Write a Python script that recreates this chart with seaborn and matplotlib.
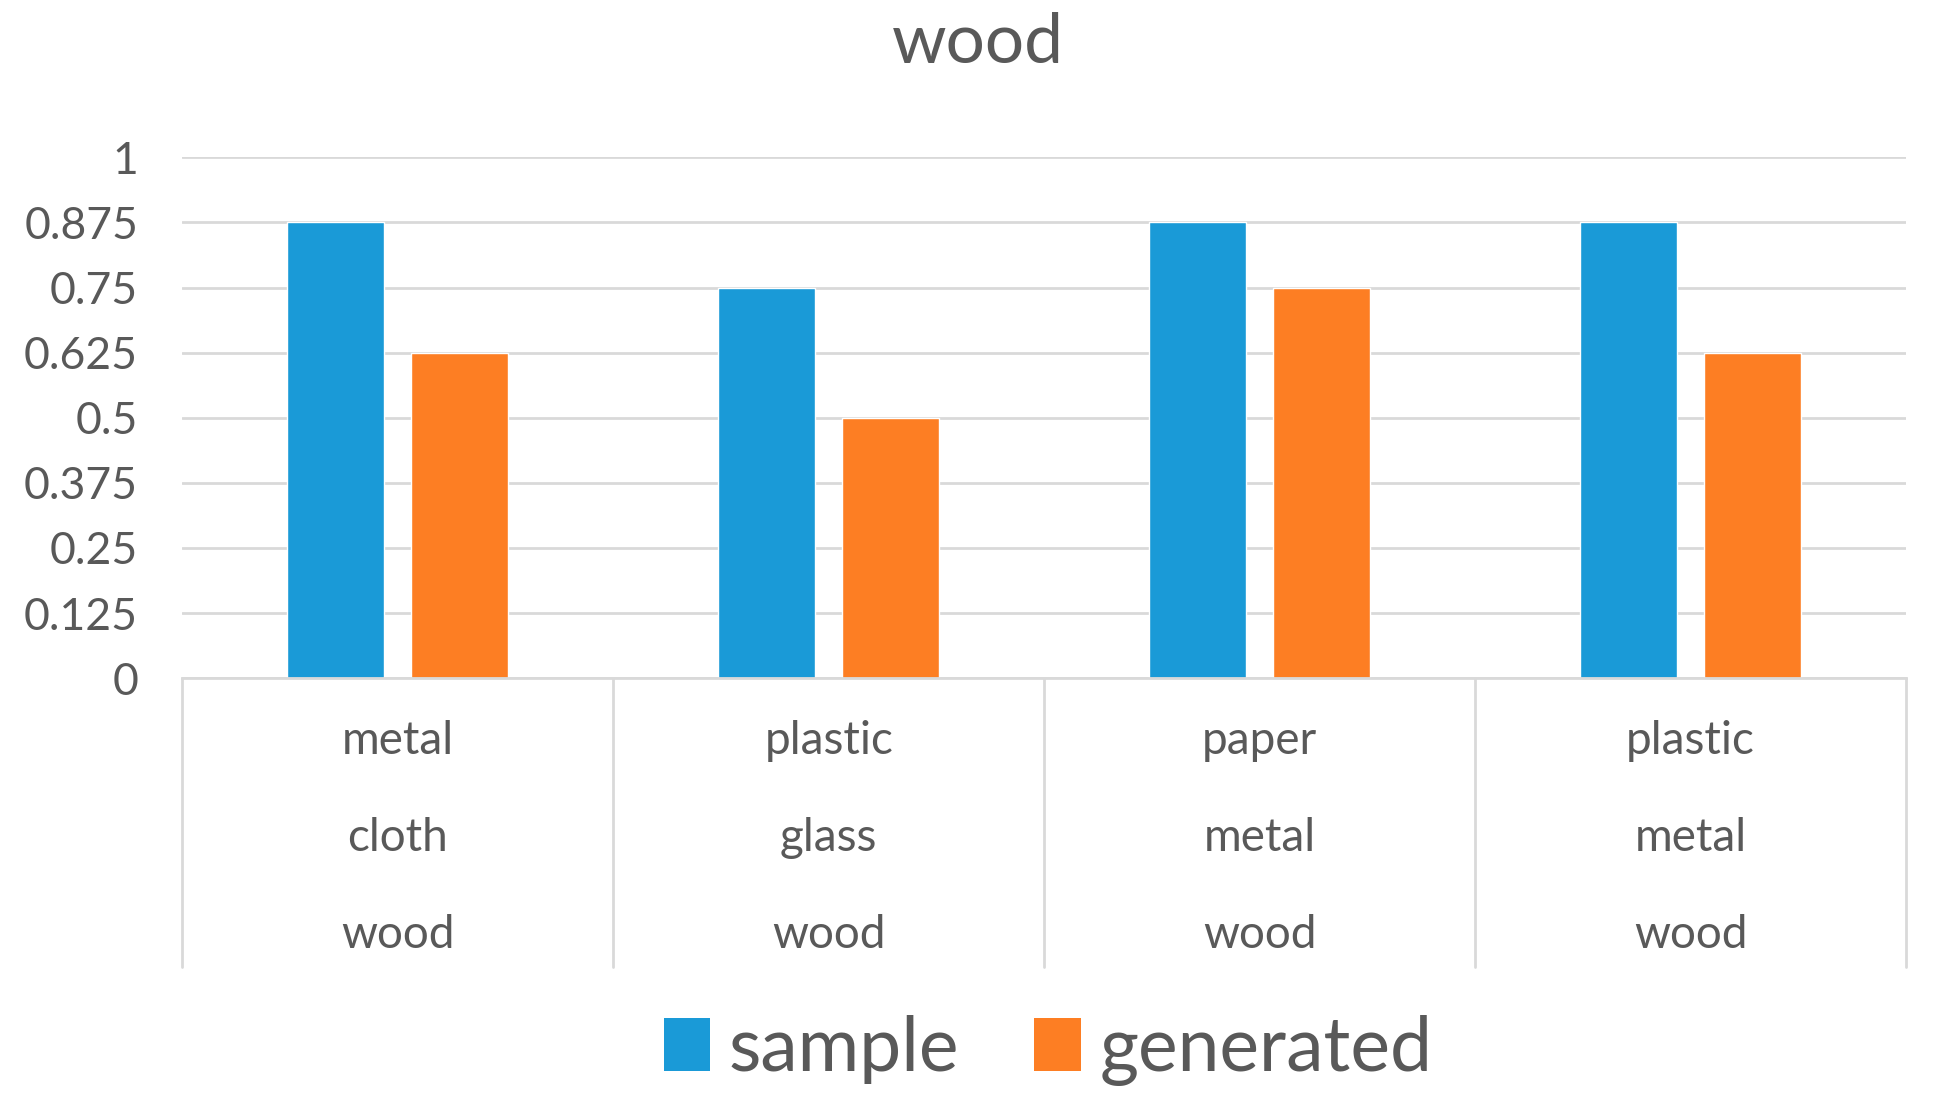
import matplotlib
matplotlib.use("Agg")
import matplotlib.pyplot as plt
import matplotlib.transforms as mtransforms
from matplotlib.patches import Patch
import seaborn as sns
import pandas as pd

# ---- data ----
title = "wood"
line1 = ["metal", "plastic", "paper", "plastic"]
line2 = ["cloth", "glass", "metal", "metal"]
line3 = ["wood", "wood", "wood", "wood"]
series_names = ["sample", "generated"]
sample = [0.875, 0.75, 0.875, 0.875]
generated = [0.625, 0.5, 0.75, 0.625]
yticks = [0, 0.125, 0.25, 0.375, 0.5, 0.625, 0.75, 0.875, 1]
ytick_labels = ["0", "0.125", "0.25", "0.375", "0.5", "0.625", "0.75", "0.875", "1"]
colors = ["#1A9AD7", "#FD7E23"]

cats = [f"{a}\n{b}\n{c}" for a, b, c in zip(line1, line2, line3)]
df = pd.DataFrame({
    "cat": cats * 2,
    "series": [series_names[0]] * 4 + [series_names[1]] * 4,
    "value": sample + generated,
})

sns.set_theme(style="white")
plt.rcParams["font.family"] = ["Lato", "DejaVu Sans"]
text_color = "#595959"

fig = plt.figure(figsize=(19.41, 11.08), dpi=100)
ax = fig.add_axes([0.094, 0.388, 0.888, 0.470])

sns.barplot(data=df, x="cat", y="value", hue="series", palette=colors,
            order=cats, hue_order=series_names, width=0.575, gap=0.217,
            saturation=1, ax=ax, legend=False)

ax.set_ylim(0, 1)
ax.set_xlim(-0.5, len(cats) - 0.5)
ax.set_yticks(yticks)
ax.set_yticklabels(ytick_labels)
ax.yaxis.grid(True, color="#D9D9D9", linewidth=2)
ax.set_axisbelow(True)
ax.set_xlabel("")
ax.set_ylabel("")
for s in ["top", "right", "left"]:
    ax.spines[s].set_visible(False)
ax.spines["bottom"].set_color("#D9D9D9")
ax.spines["bottom"].set_linewidth(2)
ax.tick_params(axis="y", length=0, pad=32, labelsize=32, labelcolor=text_color)
ax.tick_params(axis="x", length=0, pad=30, labelsize=33, labelcolor=text_color)
plt.setp(ax.get_xticklabels(), linespacing=2.62)

# category separators below the axis
trans = mtransforms.blended_transform_factory(ax.transData, ax.transAxes)
for b in [i - 0.5 for i in range(len(cats) + 1)]:
    ax.plot([b, b], [0, -0.555], transform=trans, color="#D9D9D9",
            linewidth=2, clip_on=False)

fig.text(0.504, 0.961, title, ha="center", va="center", fontsize=50,
         color=text_color)

handles = [Patch(facecolor=c, edgecolor="none") for c in colors]
fig.legend(handles, series_names, loc="center", bbox_to_anchor=(0.54, 0.052),
           ncol=2, frameon=False, fontsize=54, labelcolor=text_color,
           handlelength=0.62, handleheight=0.7, handletextpad=0.25,
           columnspacing=1.0)

fig.savefig("out.png", dpi=100, facecolor="white")
